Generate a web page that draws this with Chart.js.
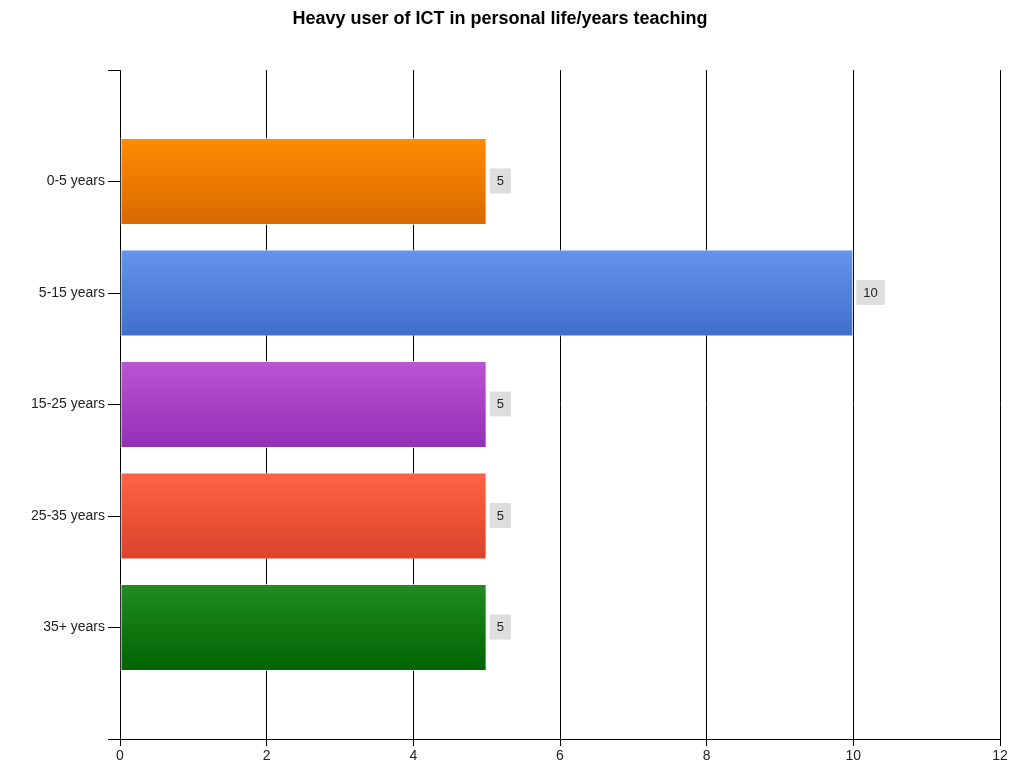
<!DOCTYPE html>
<html>
<head>
<meta charset="utf-8">
<script src="https://cdn.jsdelivr.net/npm/chart.js@4"></script>
<style>
  html, body { margin: 0; padding: 0; background: #fff; }
  #wrap { width: 1013px; height: 771px; }
</style>
</head>
<body>
<div id="wrap"><canvas id="chart" width="1013" height="771"></canvas></div>
<script>
// chart data
const title = 'Heavy user of ICT in personal life/years teaching';
const categories = ['0-5 years', '5-15 years', '15-25 years', '25-35 years', '35+ years'];
const counts = [5, 10, 5, 5, 5];
const xTicks = [0, 2, 4, 6, 8, 10, 12];
const topColors = ['#ff8c00', '#6495ed', '#ba55d3', '#ff6347', '#228b22'];
const bottomColors = ['#d96800', '#3f6fcb', '#9230b4', '#d9432a', '#006400'];

const HALF = 0.39; // half bar height in category units

function barFill(ctx) {
  const chart = ctx.chart;
  const i = ctx.dataIndex;
  if (!chart.chartArea || !chart.scales.y) return topColors[i];
  const y = chart.scales.y;
  const pos = i + 1;
  const yTop = y.getPixelForValue(pos - HALF);
  const yBot = y.getPixelForValue(pos + HALF);
  const g = chart.ctx.createLinearGradient(0, yTop, 0, yBot);
  g.addColorStop(0, topColors[i]);
  g.addColorStop(1, bottomColors[i]);
  return g;
}

const titlePlugin = {
  id: 'topTitle',
  afterDraw(chart) {
    const c = chart.ctx;
    c.save();
    c.font = 'bold 18px "Liberation Sans", Arial, sans-serif';
    c.fillStyle = '#000';
    c.textAlign = 'center';
    c.textBaseline = 'middle';
    c.fillText(title, 500, 19);
    c.restore();
  }
};

const valueLabels = {
  id: 'valueLabels',
  afterDatasetsDraw(chart) {
    const c = chart.ctx;
    const meta = chart.getDatasetMeta(0);
    c.save();
    c.font = '13px "Liberation Sans", Arial, sans-serif';
    c.textBaseline = 'middle';
    c.textAlign = 'left';
    meta.data.forEach((bar, i) => {
      const txt = String(counts[i]);
      const w = c.measureText(txt).width + 14;
      const x = bar.x + 3;
      const y = bar.y;
      c.fillStyle = '#dedede';
      c.fillRect(x, y - 13, w, 25);
      c.fillStyle = '#222';
      c.fillText(txt, x + 7, y);
    });
    c.restore();
  }
};

new Chart(document.getElementById('chart'), {
  type: 'bar',
  data: {
    datasets: [{
      data: counts.map((v, i) => ({ x: v, y: i + 1 })),
      backgroundColor: barFill,
      borderColor: 'rgba(255,255,255,0.7)',
      borderWidth: 1,
      borderSkipped: false,
      categoryPercentage: 1,
      barPercentage: 2 * HALF
    }]
  },
  options: {
    indexAxis: 'y',
    responsive: false,
    animation: false,
    layout: { padding: { top: 70, right: 13, left: 0, bottom: 0 } },
    plugins: { legend: { display: false }, tooltip: { enabled: false }, title: { display: false } },
    scales: {
      x: {
        type: 'linear',
        min: 0,
        max: 12,
        afterBuildTicks(scale) { scale.ticks = xTicks.map(v => ({ value: v })); },
        afterFit(scale) { scale.height = 32; },
        grid: { color: '#000', lineWidth: 1, tickLength: 7, drawOnChartArea: true },
        border: { color: '#000', width: 1 },
        ticks: {
          color: '#222',
          padding: 2,
          font: { family: '"Liberation Sans", Arial, sans-serif', size: 14 }
        }
      },
      y: {
        type: 'linear',
        reverse: true,
        offset: false,
        min: 0,
        max: 6,
        afterBuildTicks(scale) {
          scale.ticks = [0, 1, 2, 3, 4, 5, 6].map(v => ({ value: v }));
        },
        afterFit(scale) { scale.width = 120; },
        grid: { color: '#000', lineWidth: 1, tickLength: 12, offset: false, drawOnChartArea: false },
        border: { color: '#000', width: 1 },
        ticks: {
          color: '#222',
          padding: 3,
          font: { family: '"Liberation Sans", Arial, sans-serif', size: 14 },
          callback: v => (v >= 1 && v <= categories.length ? categories[v - 1] : '')
        }
      }
    }
  },
  plugins: [titlePlugin, valueLabels]
});
</script>
</body>
</html>
